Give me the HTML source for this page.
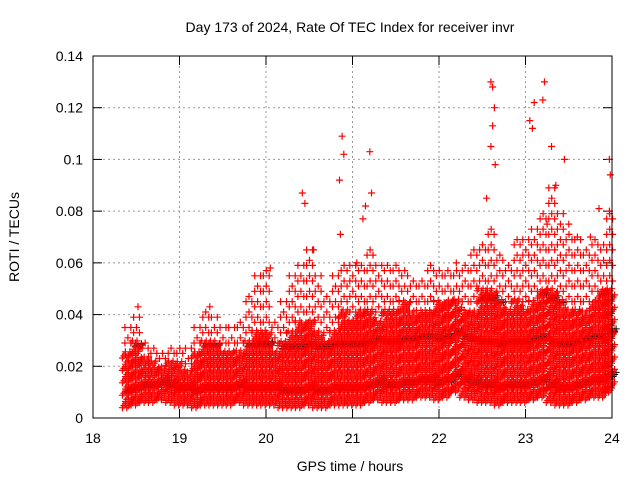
<!DOCTYPE html>
<html><head><meta charset="utf-8"><style>
body{margin:0;background:#fff;}
svg{display:block;font-family:"Liberation Sans",sans-serif;}
</style></head><body>
<svg id="chart" width="640" height="480">
<rect width="640" height="480" fill="#fff"/>
<text x="350" y="32" font-size="14" text-anchor="middle">Day 173 of 2024, Rate Of TEC Index for receiver invr</text>
<text x="350" y="471" font-size="14" text-anchor="middle">GPS time / hours</text>
<text transform="translate(19,237) rotate(-90)" font-size="14" text-anchor="middle">ROTI / TECUs</text>
<g id="grid"></g>
<g id="axes"></g>
<path id="black-pts" stroke="#000" stroke-width="1" fill="none"/>
<path id="pts" stroke="#f00" stroke-width="1.2" fill="none"/>
<path id="spikes" stroke="#f00" stroke-width="1.2" fill="none"/>
<rect x="93" y="56" width="519" height="362" fill="none" stroke="#000"/>
</svg>
<script>
const binStart = [18.4,18.5,18.6,18.7,18.8,18.9,19.0,19.1,19.2,19.3,19.4,19.5,19.6,19.7,19.8,19.9,20.0,20.1,20.2,20.3,20.4,20.5,20.6,20.7,20.8,20.9,21.0,21.1,21.2,21.3,21.4,21.5,21.6,21.7,21.8,21.9,22.0,22.1,22.2,22.3,22.4,22.5,22.6,22.7,22.8,22.9,23.0,23.1,23.2,23.3,23.4,23.5,23.6,23.7,23.8,23.9,23.97];
const binLow = [.004,.005,.006,.006,.007,.006,.005,.005,.004,.005,.005,.005,.005,.006,.005,.005,.005,.005,.004,.004,.004,.005,.004,.004,.005,.005,.005,.005,.006,.007,.006,.006,.007,.007,.008,.008,.007,.008,.01,.008,.007,.006,.006,.005,.006,.006,.006,.007,.008,.006,.005,.005,.006,.007,.008,.008,.01];
const binHigh = [.026,.03,.024,.022,.02,.022,.022,.018,.026,.03,.03,.026,.026,.026,.03,.034,.034,.026,.03,.034,.038,.038,.034,.03,.034,.042,.038,.042,.042,.038,.042,.042,.046,.042,.042,.042,.046,.046,.046,.042,.042,.05,.05,.046,.042,.046,.042,.046,.05,.05,.046,.042,.042,.042,.046,.05,.05];
const binPeak = [.035,.04,.03,.03,.028,.03,.03,.027,.035,.042,.04,.035,.035,.038,.05,.055,.058,.04,.045,.055,.06,.065,.055,.05,.055,.06,.06,.06,.065,.06,.06,.06,.06,.055,.055,.06,.06,.06,.06,.062,.065,.07,.075,.065,.06,.07,.07,.075,.08,.09,.08,.075,.07,.065,.07,.07,.08];
const spikeT = [20.42,20.45,20.88,20.9,20.85,20.86,21.12,21.15,21.2,21.22,22.6,22.62,22.64,22.62,22.6,22.65,23.05,23.08,23.1,23.2,23.22,23.3,23.35,23.45,23.5,23.85,23.97,23.98,23.97,20.05,20.55,21.05,22.55,23.6,23.75,18.52,19.35,22.2,23.25];
const spikeV = [.087,.083,.109,.102,.092,.071,.077,.082,.103,.087,.13,.128,.12,.113,.105,.098,.115,.112,.122,.123,.13,.105,.09,.1,.075,.081,.1,.094,.08,.058,.065,.06,.085,.07,.07,.043,.043,.06,.075];
const xTicks = [18,19,20,21,22,23,24];
const yTicks = [0,0.02,0.04,0.06,0.08,0.1,0.12,0.14];
const yLabels = ["0","0.02","0.04","0.06","0.08","0.1","0.12","0.14"];

const X = t => 93 + (t-18)/6*519;
const Y = v => 418 - v/0.14*362;
const NS='http://www.w3.org/2000/svg';
const grid=document.getElementById('grid'), axes=document.getElementById('axes');
function mk(tag,attrs,parent){const e=document.createElementNS(NS,tag);for(const k in attrs)e.setAttribute(k,attrs[k]);parent.appendChild(e);return e;}
xTicks.forEach((t,i)=>{
  const x=X(t);
  if(i>0&&i<xTicks.length-1){const g=mk('line',{x1:x,x2:x,y1:56,y2:418,stroke:'#999','stroke-dasharray':'2,3'},grid);
  
  }
  mk('line',{x1:x,x2:x,y1:418,y2:409,stroke:'#000'},axes);
  mk('line',{x1:x,x2:x,y1:56,y2:65,stroke:'#000'},axes);
  const l=mk('text',{x:x,y:443,'font-size':14,'text-anchor':'middle'},axes);l.textContent=t;
  
  
});
yTicks.forEach((v,i)=>{
  const y=Y(v);
  if(i>0&&i<yTicks.length-1){const g=mk('line',{x1:93,x2:612,y1:y,y2:y,stroke:'#999','stroke-dasharray':'2,3'},grid);
  
  }
  mk('line',{x1:93,x2:102,y1:y,y2:y,stroke:'#000'},axes);
  mk('line',{x1:612,x2:603,y1:y,y2:y,stroke:'#000'},axes);
  const l=mk('text',{x:83,y:y+5,'font-size':14,'text-anchor':'end'},axes);l.textContent=yLabels[i];
  
  
});
const plus=(x,y)=>`M${(x-3.5).toFixed(1)} ${y.toFixed(1)}h7M${x.toFixed(1)} ${(y-3.5).toFixed(1)}v7`;
let d='',db='';
binStart.forEach((t,i)=>{
  const lo=binLow[i],hi=binHigh[i],pk=binPeak[i];
  for(let s=0;s<6;s++){
    const x=X(t+(s-2.5)*0.017);
    let k=0;
    for(let v=lo+(s%3)*0.0008;v<=hi;v+=0.0024,k++){
      d+=plus(x+((k%2)?1.5:-1.5),Y(v));
      if(k%7==3) db+=plus(x+3,Y(v)+3);
    }
    if(s%2==0){
      for(let v=hi+0.003+(s%4)*0.001;v<=pk;v+=0.006){ d+=plus(x+1,Y(v)); }
    }
  }
});
document.getElementById('pts').setAttribute('d',d);
document.getElementById('black-pts').setAttribute('d',db);
let ds='';
spikeT.forEach((t,i)=>{ds+=plus(X(t),Y(spikeV[i]));});
document.getElementById('spikes').setAttribute('d',ds);
</script>
</body></html>
